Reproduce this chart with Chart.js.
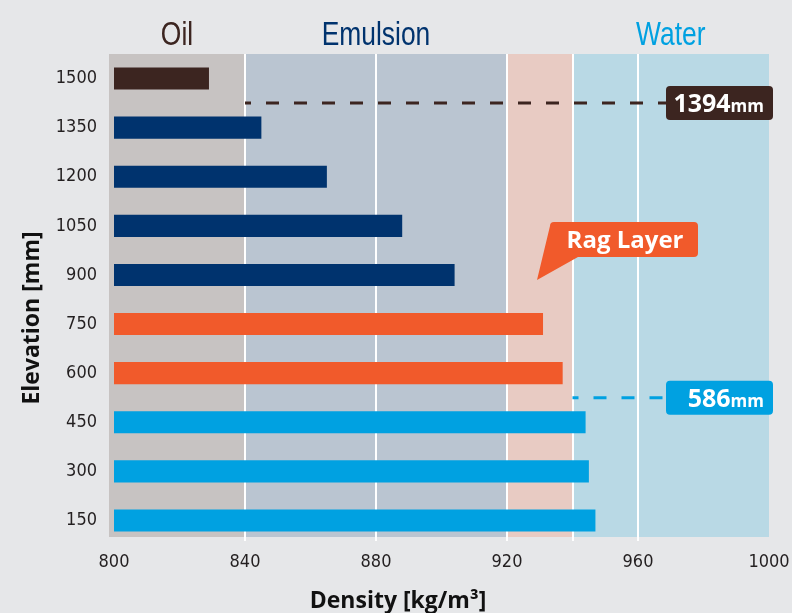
<!DOCTYPE html>
<html>
<head>
<meta charset="utf-8">
<script src="https://cdn.jsdelivr.net/npm/chart.js@4"></script>
<style>
  html, body { margin: 0; padding: 0; background: #e6e7e9; }
  #wrap { width: 792px; height: 613px; }
</style>
</head>
<body>
<div id="wrap"><canvas id="densityChart" width="792" height="613"></canvas></div>
<script>
// elevation of each sample point, top to bottom
const elevations = ['1500', '1350', '1200', '1050', '900', '750', '600', '450', '300', '150'];
const densities = [829, 845, 865, 888, 904, 931, 937, 944, 945, 947];
const layers = ['Oil', 'Emulsion', 'Emulsion', 'Emulsion', 'Emulsion', 'Rag', 'Rag', 'Water', 'Water', 'Water'];
const densityTicks = [800, 840, 880, 920, 960, 1000];

// density zones shown as coloured bands
const zoneNames = ['Oil', 'Emulsion', 'Rag', 'Water'];
const zoneFrom = [800, 840, 920, 940];
const zoneTo = [840, 920, 940, 1000];

// measured interface levels
const levelValues = [1394, 586];
const levelFrom = [840, 940];

const barColors = { Oil: '#3c2520', Emulsion: '#00336e', Rag: '#f15a2b', Water: '#00a1e1' };
const bandColors = { Oil: '#c7c3c2', Emulsion: '#bac5d1', Rag: '#e8cbc3', Water: '#b9d9e5' };
const levelColors = ['#3c2520', '#00a1e1'];

const narrow = '"DejaVu Sans Condensed", "Liberation Sans", sans-serif';
const bold = '"Open Sans", "Liberation Sans", sans-serif';

function levelSlot(v) {
    for (let i = 0; i < elevations.length - 1; i++) {
        if (v <= +elevations[i] && v > +elevations[i + 1]) return i + 0.5;
    }
    return 0;
}

const backdrop = {
    id: 'backdrop',
    beforeDraw(chart) {
        const { ctx, chartArea: a, scales: { x } } = chart;
        const bottom = a.bottom - 8;
        ctx.save();
        ctx.fillStyle = '#e6e7e9';
        ctx.fillRect(0, 0, chart.width, chart.height);

        zoneNames.forEach((z, i) => {
            let x0 = x.getPixelForValue(zoneFrom[i]);
            const x1 = x.getPixelForValue(zoneTo[i]);
            if (i === 0) x0 -= 5;
            ctx.fillStyle = bandColors[z];
            ctx.fillRect(x0, a.top, x1 - x0, bottom - a.top);
        });

        // white dividers: inner ticks and zone edges
        const lines = new Set();
        densityTicks.slice(1, -1).forEach(v => lines.add(v));
        zoneFrom.slice(1).forEach(v => lines.add(v));
        ctx.strokeStyle = '#ffffff';
        ctx.lineWidth = 2;
        lines.forEach(v => {
            const px = Math.round(x.getPixelForValue(v));
            ctx.beginPath();
            ctx.moveTo(px, a.top);
            ctx.lineTo(px, bottom + 4);
            ctx.stroke();
        });

        // zone headings
        const heads = { Oil: '#3c2520', Emulsion: '#00336e', Water: '#00a1e1' };
        ctx.font = '33px "Liberation Sans", sans-serif';
        ctx.textAlign = 'center';
        ctx.textBaseline = 'alphabetic';
        zoneNames.forEach((z, i) => {
            if (!heads[z]) return;
            let x0 = x.getPixelForValue(zoneFrom[i]);
            if (i === 0) x0 -= 5;
            const x1 = x.getPixelForValue(zoneTo[i]);
            ctx.fillStyle = heads[z];
            ctx.fillText(z, (x0 + x1) / 2, a.top - 9, ctx.measureText(z).width * 0.8);
        });
        ctx.restore();
    },
    afterDatasetsDraw(chart) {
        const { ctx, chartArea: a, scales: { x, y } } = chart;
        ctx.save();

        // level markers
        levelValues.forEach((v, i) => {
            const py = y.getPixelForValue(levelSlot(v));
            const boxL = a.right - 103, boxR = a.right + 4;
            ctx.strokeStyle = levelColors[i];
            ctx.lineWidth = 3;
            ctx.setLineDash([13, 15]);
            ctx.lineDashOffset = 7;
            ctx.beginPath();
            ctx.moveTo(x.getPixelForValue(levelFrom[i]), py);
            ctx.lineTo(boxL, py);
            ctx.stroke();
            ctx.setLineDash([]);

            ctx.fillStyle = levelColors[i];
            ctx.beginPath();
            ctx.roundRect(boxL, py - 17, boxR - boxL, 34, 4);
            ctx.fill();

            ctx.fillStyle = '#ffffff';
            ctx.textBaseline = 'alphabetic';
            ctx.textAlign = 'right';
            ctx.font = 'bold 17px ' + bold;
            const r = boxR - 9;
            ctx.fillText('mm', r, py + 9);
            const mw = ctx.measureText('mm').width;
            ctx.font = 'bold 25px ' + bold;
            ctx.fillText(String(v), r - mw, py + 9);
        });

        // rag layer callout
        const cx0 = a.right - 219, cx1 = a.right - 71, cy0 = a.top + 168, cy1 = a.top + 203;
        ctx.fillStyle = '#f15a2b';
        ctx.beginPath();
        ctx.moveTo(cx0 + 4, cy0);
        ctx.lineTo(cx1 - 4, cy0);
        ctx.quadraticCurveTo(cx1, cy0, cx1, cy0 + 4);
        ctx.lineTo(cx1, cy1 - 4);
        ctx.quadraticCurveTo(cx1, cy1, cx1 - 4, cy1);
        ctx.lineTo(cx0 + 28, cy1);
        ctx.lineTo(cx0 - 13, cy1 + 23);
        ctx.lineTo(cx0, cy0 + 4);
        ctx.quadraticCurveTo(cx0, cy0, cx0 + 4, cy0);
        ctx.fill();
        ctx.fillStyle = '#ffffff';
        ctx.font = 'bold 24px ' + bold;
        ctx.textAlign = 'center';
        ctx.fillText('Rag Layer', (cx0 + cx1) / 2 + 1, cy1 - 9);

        // axis titles
        ctx.fillStyle = '#111111';
        ctx.font = 'bold 23px ' + bold;
        ctx.textAlign = 'center';
        ctx.fillText('Density [kg/m³]', 398, chart.height - 5);
        ctx.translate(39, 318);
        ctx.rotate(-Math.PI / 2);
        ctx.fillText('Elevation [mm]', 0, 0);
        ctx.restore();
    }
};

new Chart(document.getElementById('densityChart'), {
    type: 'bar',
    data: {
        labels: elevations,
        datasets: [{
            data: densities,
            backgroundColor: layers.map(l => barColors[l]),
            borderWidth: 0,
            barPercentage: 1,
            categoryPercentage: 0.45
        }]
    },
    options: {
        indexAxis: 'y',
        responsive: false,
        animation: false,
        layout: { padding: { left: 0, right: 23, top: 54, bottom: 0 } },
        plugins: { legend: { display: false }, tooltip: { enabled: false } },
        scales: {
            x: {
                min: 800,
                max: 1000,
                afterBuildTicks: s => { s.ticks = densityTicks.map(v => ({ value: v })); },
                afterFit: s => { s.height = 68; s.paddingLeft = 0; s.paddingRight = 0; },
                grid: { display: false, drawTicks: false },
                border: { display: false },
                ticks: {
                    padding: 7, color: '#231f20', maxRotation: 0,
                    font: { family: narrow, size: 18 },
                    callback: v => String(v)
                }
            },
            y: {
                afterFit: s => { s.width = 114; },
                grid: { display: false, drawTicks: false },
                border: { display: false },
                ticks: { padding: 17, color: '#231f20', font: { family: narrow, size: 18 } }
            }
        }
    },
    plugins: [backdrop]
});
</script>
</body>
</html>
